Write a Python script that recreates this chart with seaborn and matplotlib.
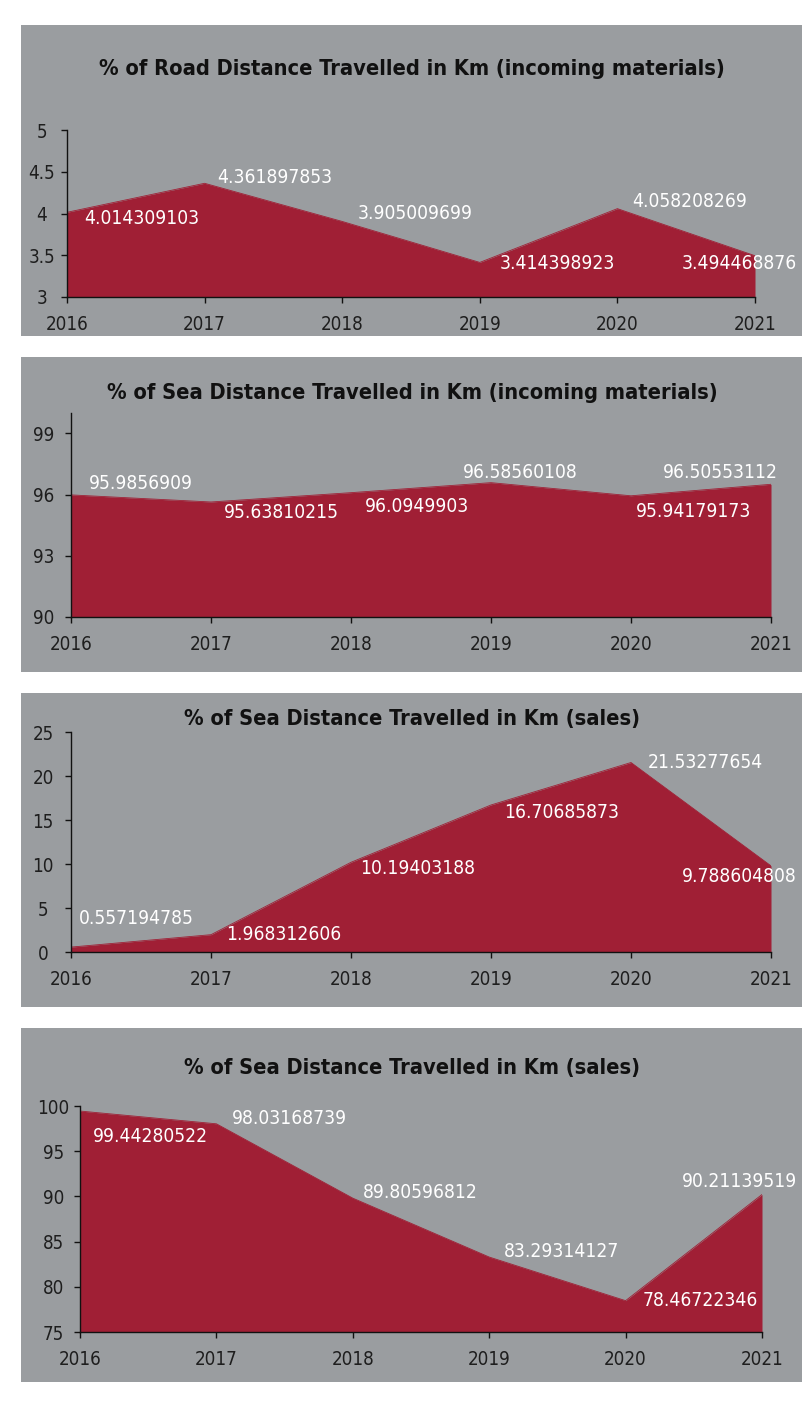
import matplotlib
matplotlib.use("Agg")
import matplotlib.pyplot as plt
from matplotlib.patches import Rectangle
import seaborn as sns
import pandas as pd

# ---- data -------------------------------------------------------------
years = [2016, 2017, 2018, 2019, 2020, 2021]

road_incoming = [4.014309103, 4.361897853, 3.905009699, 3.414398923, 4.058208269, 3.494468876]
sea_incoming = [95.9856909, 95.63810215, 96.0949903, 96.58560108, 95.94179173, 96.50553112]
sea_sales_a = [0.557194785, 1.968312606, 10.19403188, 16.70685873, 21.53277654, 9.788604808]
sea_sales_b = [99.44280522, 98.03168739, 89.80596812, 83.29314127, 78.46722346, 90.21139519]

titles = [
    "% of Road Distance Travelled in Km (incoming materials)",
    "% of Sea Distance Travelled in Km (incoming materials)",
    "% of Sea Distance Travelled in Km (sales)",
    "% of Sea Distance Travelled in Km (sales)",
]
y_limits = [(3, 5), (90, 100), (0, 25), (75, 100)]
y_ticks = [[3, 3.5, 4, 4.5, 5], [90, 93, 96, 99], [0, 5, 10, 15, 20, 25], [75, 80, 85, 90, 95, 100]]
y_ticklabels = [["3", "3.5", "4", "4.5", "5"], ["90", "93", "96", "99"],
                ["0", "5", "10", "15", "20", "25"], ["75", "80", "85", "90", "95", "100"]]
series = [road_incoming, sea_incoming, sea_sales_a, sea_sales_b]

# ---- layout (pixels) --------------------------------------------------
W, H = 810, 1405
panel_boxes = [(21, 25, 802, 336), (21, 357, 802, 672), (21, 693, 802, 1007), (21, 1028, 802, 1382)]
axes_boxes = [(67, 130, 755, 297), (71, 413, 771, 617), (71, 732, 771, 952), (80, 1106, 762, 1332)]
title_y = [69, 393, 719, 1068]
ylabel_pad = [14, 16, 16, 15]
label_offsets = [
    [(17, 6), (13, -6), (15, -8), (20, 1), (15, -7), (-73, 8)],
    [(18, -11), (13, 11), (14, 14), (-28, -10), (5, 16), (-108, -12)],
    [(8, -29), (15, 0), (9, 6), (13, 8), (17, 0), (-89, 11)],
    [(13, 25), (15, -5), (10, -6), (15, -6), (17, 0), (-80, -13)],
]

PANEL = "#9a9da0"
FILL = "#a01f35"
TEXT = "#1e1e1e"

sns.set_theme(style="ticks")
plt.rcParams["font.family"] = ["DejaVu Sans"]
plt.rcParams["font.stretch"] = "condensed"

fig = plt.figure(figsize=(W / 100, H / 100), dpi=100)
fig.patch.set_facecolor("white")


def fx(x):
    return x / W


def fy(y):
    return 1 - y / H


for i in range(4):
    px0, py0, px1, py1 = panel_boxes[i]
    fig.patches.append(Rectangle((fx(px0), fy(py1)), fx(px1 - px0), (py1 - py0) / H,
                                 transform=fig.transFigure, facecolor=PANEL,
                                 edgecolor="none", zorder=-5))
    ax0, ay0, ax1, ay1 = axes_boxes[i]
    ax = fig.add_axes([fx(ax0), fy(ay1), fx(ax1 - ax0), (ay1 - ay0) / H])
    ax.set_facecolor(PANEL)

    df = pd.DataFrame({"year": years, "value": series[i]})
    lo, hi = y_limits[i]
    ax.fill_between(df["year"], lo, df["value"], color=FILL, linewidth=0, zorder=2)
    sns.lineplot(data=df, x="year", y="value", ax=ax, color=FILL, linewidth=0.6, zorder=3)

    ax.set_xlim(years[0], years[-1])
    ax.set_ylim(lo, hi)
    ax.set_xticks(years)
    ax.set_xticklabels([str(y) for y in years])
    ax.set_yticks(y_ticks[i])
    ax.set_yticklabels(y_ticklabels[i], ha="center")
    ax.set_xlabel("")
    ax.set_ylabel("")
    for s in ("top", "right"):
        ax.spines[s].set_visible(False)
    for s in ("left", "bottom"):
        ax.spines[s].set_color("#111111")
        ax.spines[s].set_linewidth(1.0)
        ax.spines[s].set_zorder(4)
    ax.tick_params(axis="x", length=4, width=1, color="#111111", pad=9,
                   labelsize=13.5, labelcolor=TEXT)
    ax.tick_params(axis="y", length=4, width=1, color="#111111", pad=ylabel_pad[i],
                   labelsize=13.5, labelcolor=TEXT)

    for yr, v, (dx, dy) in zip(years, series[i], label_offsets[i]):
        ax.annotate(f"{v:.10g}", xy=(yr, v), xytext=(dx, -dy), textcoords="offset pixels",
                    ha="left", va="center", color="white", fontsize=13.8,
                    annotation_clip=False, zorder=5)

    fig.text(fx(412), fy(title_y[i]), titles[i], ha="center", va="center",
             fontsize=15.7, fontweight="bold", color="#111111")

fig.savefig("out.png", dpi=100, facecolor="white")
